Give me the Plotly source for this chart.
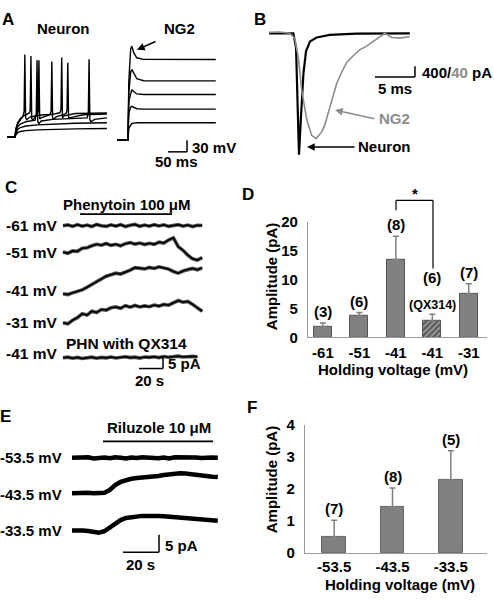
import plotly.graph_objects as go

W, H = 494, 601
FONT = "Liberation Sans, Arial, sans-serif"

# ---------------- data ----------------
# Panel D
d_labels = ["-61", "-51", "-41", "-41", "-31"]
d_values = [1.8, 3.8, 13.5, 2.8, 7.5]
d_errors = [0.7, 0.5, 4.0, 1.2, 1.8]
d_n = ["(3)", "(6)", "(8)", "(6)", "(7)"]
d_hatched = [False, False, False, True, False]

# Panel F
f_labels = ["-53.5", "-43.5", "-33.5"]
f_values = [0.5, 1.45, 2.28]
f_errors = [0.53, 0.58, 0.91]
f_n = ["(7)", "(8)", "(5)"]

# Panel A - neuron current-clamp traces (ms, mV relative to rest)
a_n1_t = [0, 21, 22, 24, 28, 35, 50, 80, 120, 180, 263]
a_n1_v = [0, 0, 4, 8, 12, 15, 17, 19, 20.5, 21.5, 22.5]
a_n2_t = [0, 21, 22, 24, 28, 35, 50, 80, 120, 180, 263]
a_n2_v = [0, 0, 6, 13, 20, 25, 29, 32, 34, 36, 37.5]
a_n3_t = [0, 21, 22, 24, 28, 35, 50, 74, 77, 79, 81, 84, 90, 120, 160, 200, 211, 214, 216, 218, 221, 230, 263]
a_n3_v = [0, 0, 8, 17, 27, 34, 40, 44, 60, 198, 40, 35, 42, 46, 48, 49, 50, 62, 201, 45, 40, 46, 50]
a_n4_t = [0, 21, 22, 24, 28, 35, 42, 45, 47, 49, 52, 60, 80, 100, 113, 116, 118, 120, 123, 130, 150, 156, 158, 160, 162, 165, 200, 263]
a_n4_v = [0, 0, 10, 22, 34, 45, 55, 65, 213, 50, 45, 52, 56, 58, 59, 66, 195, 50, 47, 53, 58, 62, 70, 192, 52, 50, 58, 60]
a_n5_t = [0, 21, 22, 24, 28, 35, 45, 58, 61, 63, 65, 68, 76, 82, 84, 86, 90, 110, 139, 142, 144, 146, 150, 180, 263]
a_n5_v = [0, 0, 11, 24, 37, 48, 56, 62, 68, 209, 48, 44, 55, 66, 198, 47, 50, 57, 63, 70, 205, 50, 55, 61, 62.5]

# Panel A - NG2 traces (ms, mV relative to rest)
a_g_t = [0, 29, 31, 36, 39, 44, 52, 70, 260]
a_g1_v = [0, 0, 150, 235, 242, 225, 212, 208, 207.5]
a_g2_v = [0, 0, 120, 175, 182, 172, 158, 153, 152.5]
a_g3_v = [0, 0, 100, 125, 130, 125, 119, 117.5, 117.5]
a_g4_v = [0, 0, 70, 85, 87, 84, 81, 80, 80]
a_g5_v = [0, 0, 30, 40, 43, 44, 45, 45, 45]

# Panel B - evoked currents (ms, pA)
b_neu_t = [0, 3.04, 3.38, 3.54, 3.75, 3.96, 4.3, 4.63, 5.13, 5.96, 7.6, 10.96, 17.6]
b_neu_i = [0, 0, -545, -2727, -4545, -3333, -1515, -667, -303, -158, -61, -12, 0]
b_ng2_t = [0, 1.33, 2.58, 3.21, 3.67, 4.08, 4.71, 5.33, 5.88, 6.58, 7.0, 7.42, 7.9, 8.46, 9.1,
           9.71, 10.5, 11.38, 12.2, 13.04, 13.88, 14.5, 15.33, 16.4, 17.6]
b_ng2_i = [3.6, 5, 0, -18, -91, -212, -321, -382, -394, -370, -340, -297, -245, -188, -145,
           -109, -85, -61, -48, -30, -12, 0, -16, -18, -12]

# Panel C - phenytoin traces (s, pA change)
c_t = [0, 4, 8, 12, 16, 20, 24, 28, 32, 36, 40, 44, 48, 52, 56, 60, 64, 68, 72, 76, 80, 84,
       88, 92, 96, 100, 104, 108, 112, 116]
c_m61 = [0, 0.4, -0.3, 0.5, -0.2, 0.3, -0.4, 0.6, 0, -0.3, 0.4, -0.2, 0.5, -0.4, 0.2, 0.6,
         -0.3, 0.3, -0.2, 0.5, -0.1, 0.4, -0.3, 0.2, 0.5, -0.2, 0.3, -0.4, 0.2, 0.1]
c_m51 = [0, -0.6, 0.5, 0.3, 1.8, 2.0, 2.9, 3.6, 3.2, 4.0, 3.1, 3.6, 2.9, 3.9, 4.4, 3.7, 4.2,
         3.5, 4.1, 3.6, 4.6, 4.2, 5.6, 6.6, 2.5, 0.8, -1.5, -3.2, -3.8, -2.6]
c_m41 = [0, -0.4, 0.4, 1.0, 1.8, 3.0, 4.2, 5.8, 7.0, 8.2, 8.9, 9.6, 9.2, 10.0, 11.0, 12.2,
         12.0, 11.6, 12.3, 11.8, 12.6, 12.0, 11.5, 10.4, 9.6, 10.6, 11.4, 11.8, 11.2, 12.1]
c_m31 = [0, -0.5, 1.2, 2.4, 4.2, 3.6, 5.4, 4.8, 6.2, 5.9, 7.0, 7.4, 6.8, 8.0, 7.3, 8.1, 7.4,
         7.9, 7.5, 8.3, 7.8, 8.6, 8.2, 9.3, 10.4, 9.6, 10.0, 8.6, 6.8, 5.4]
c_qx_t = [0, 4, 8, 12, 16, 20, 24, 28, 32, 36, 40, 44, 48, 52, 56, 60, 64, 68, 72, 76, 80,
          84, 88, 92, 96, 100, 104, 108, 112]
c_qx = [0, 0.3, -0.2, 0.2, -0.3, 0.1, 0.3, -0.2, 0.2, 0, 0.4, -0.1, 0.2, 0.5, 0.1, 0.3, -0.1,
        0.4, 0.2, 0.5, 0.1, 0.6, 0.3, 0.5, 0.8, 0.4, 0.6, 0.7, 0.5]

# Panel E - riluzole traces (s, pA change)
e_t = [0, 3, 6, 9, 12, 15, 18, 21, 24, 27, 30, 33, 36, 39, 42, 45, 48, 51, 54, 57, 60, 63,
       66, 69, 72, 75, 78, 81]
e_m535 = [0, 0.1, -0.1, 0.15, -0.2, 0.05, 0.1, -0.1, 0.15, 0, -0.2, 0.1, -0.05, 0.15, 0, 0.1,
          -0.15, 0.05, -0.2, 0.15, 0.2, 0.05, 0.2, 0.1, -0.05, 0.15, 0.1, 0.05]
e_m435 = [0, 0.1, -0.1, 0.1, 0, 0.1, 0.1, 0.9, 2.3, 3.2, 3.7, 4.1, 4.3, 4.4, 4.6, 4.7, 4.9,
          5.2, 5.4, 5.6, 5.7, 5.6, 5.4, 5.0, 4.9, 4.8, 4.7, 4.6]
e_m335 = [0, 0.1, 0, -0.1, -0.4, -0.6, -0.2, 1.0, 2.2, 3.0, 3.6, 3.9, 4.1, 4.2, 4.2, 4.3,
          4.2, 4.1, 4.0, 3.9, 3.8, 3.7, 3.5, 3.3, 3.1, 3.0, 2.9, 2.8]

# ---------------- geometry helpers ----------------
def px(x):
    return x / W

def py(y):
    return 1 - y / H

def xdom(x0, x1):
    return [x0 / W, x1 / W]

def ydom(y0, y1):
    return [1 - y1 / H, 1 - y0 / H]

def xrng(x0, x1, origin, scale):
    return [(x0 - origin) * scale, (x1 - origin) * scale]

def yrng(y0, y1, origin, scale):
    return [(origin - y1) * scale, (origin - y0) * scale]

def bold(size=15, color="black"):
    return dict(family=FONT, size=size, color=color, weight="bold")

HIDDEN = dict(visible=False, fixedrange=True, showgrid=False, zeroline=False)
AXIS_GRAY = "#9a9a9a"

fig = go.Figure()

# ---------------- Panel D bars ----------------
d_colors = ["#5a5a5a" if h else "#808080" for h in d_hatched]
fig.add_trace(go.Bar(
    x=list(range(len(d_values))), y=d_values, width=0.49,
    marker=dict(color=d_colors, line=dict(color="#555555", width=1),
                pattern=dict(shape=["/" if h else "" for h in d_hatched], size=4, solidity=0.35)),
    error_y=dict(type="data", array=d_errors, arrayminus=[0] * len(d_errors), symmetric=False,
                 color="#808080", thickness=1.5, width=3),
    xaxis="x", yaxis="y", hoverinfo="skip"))

# ---------------- Panel F bars ----------------
fig.add_trace(go.Bar(
    x=list(range(len(f_values))), y=f_values, width=0.41,
    marker=dict(color="#808080", line=dict(color="#666666", width=1)),
    error_y=dict(type="data", array=f_errors, arrayminus=[0] * len(f_errors), symmetric=False,
                 color="#808080", thickness=1.5, width=3),
    xaxis="x2", yaxis="y2", hoverinfo="skip"))

# ---------------- Panel A traces ----------------
for t, v in [(a_n1_t, a_n1_v), (a_n2_t, a_n2_v), (a_n3_t, a_n3_v), (a_n4_t, a_n4_v), (a_n5_t, a_n5_v)]:
    fig.add_trace(go.Scatter(x=t, y=v, mode="lines", line=dict(color="black", width=1.4),
                             xaxis="x3", yaxis="y3", hoverinfo="skip"))
for v in [a_g1_v, a_g2_v, a_g3_v, a_g4_v, a_g5_v]:
    fig.add_trace(go.Scatter(x=a_g_t, y=v, mode="lines", line=dict(color="black", width=1.4),
                             xaxis="x4", yaxis="y4", hoverinfo="skip"))

# ---------------- Panel B traces ----------------
fig.add_trace(go.Scatter(x=b_ng2_t, y=b_ng2_i, mode="lines", line=dict(color="#8c8c8c", width=1.6),
                         xaxis="x5", yaxis="y6", hoverinfo="skip"))
fig.add_trace(go.Scatter(x=b_neu_t, y=b_neu_i, mode="lines", line=dict(color="black", width=2.2),
                         xaxis="x5", yaxis="y5", hoverinfo="skip"))

# ---------------- Panel C traces (noisy band: grey halo + black core) ----------------
c_offsets = [75.9, 63.6, 44.1, 30.5, 14.1]
for (t, v), off in zip([(c_t, c_m61), (c_t, c_m51), (c_t, c_m41), (c_t, c_m31), (c_qx_t, c_qx)], c_offsets):
    yy = [a + off for a in v]
    fig.add_trace(go.Scatter(x=t, y=yy, mode="lines", line=dict(color="#555555", width=3.6),
                             xaxis="x7", yaxis="y7", hoverinfo="skip"))
    fig.add_trace(go.Scatter(x=t, y=yy, mode="lines", line=dict(color="black", width=1.6),
                             xaxis="x7", yaxis="y7", hoverinfo="skip"))

# ---------------- Panel E traces ----------------
e_offsets = [34.2, 24.1, 13.4]
for v, off in zip([e_m535, e_m435, e_m335], e_offsets):
    fig.add_trace(go.Scatter(x=e_t, y=[a + off for a in v], mode="lines",
                             line=dict(color="black", width=4.5),
                             xaxis="x8", yaxis="y8", hoverinfo="skip"))

# ---------------- axes ----------------
tick15 = bold(15)
layout_axes = dict(
    xaxis=dict(domain=xdom(308, 487), range=[-0.41, 4.5], tickvals=list(range(5)), ticktext=d_labels,
               showline=True, linecolor=AXIS_GRAY, linewidth=1.3, ticks="", tickfont=tick15,
               showgrid=False, zeroline=False, anchor="y", ticklabelstandoff=1, fixedrange=True),
    yaxis=dict(domain=ydom(219, 338), range=[0, 20], tickvals=[0, 5, 10, 15, 20],
               showline=True, linecolor=AXIS_GRAY, linewidth=1.3, ticks="",
               tickfont=tick15, showgrid=False, zeroline=False, anchor="x",
               ticklabelstandoff=6, fixedrange=True),
    xaxis2=dict(domain=xdom(305, 487), range=[-0.5, 2.62], tickvals=list(range(3)), ticktext=f_labels,
                showline=True, linecolor=AXIS_GRAY, linewidth=1.3, ticks="", tickfont=tick15,
                showgrid=False, zeroline=False, anchor="y2", ticklabelstandoff=0, fixedrange=True),
    yaxis2=dict(domain=ydom(428, 560), range=[0, 4], tickvals=[0, 1, 2, 3, 4],
                showline=True, linecolor=AXIS_GRAY, linewidth=1.3, ticks="",
                tickfont=tick15, showgrid=False, zeroline=False, anchor="x2",
                ticklabelstandoff=6, fixedrange=True),
    xaxis3=dict(HIDDEN, domain=xdom(5, 112), range=xrng(5, 112, 7, 50 / 19), anchor="y3"),
    yaxis3=dict(HIDDEN, domain=ydom(30, 160), range=yrng(30, 160, 132, 2.5), anchor="x3"),
    xaxis4=dict(HIDDEN, domain=xdom(112, 230), range=xrng(112, 230, 117, 50 / 19), anchor="y4"),
    yaxis4=dict(HIDDEN, domain=ydom(30, 160), range=yrng(30, 160, 135, 2.5), anchor="x4"),
    xaxis5=dict(HIDDEN, domain=xdom(265, 420), range=xrng(265, 420, 269, 0.125), anchor="y5"),
    yaxis5=dict(HIDDEN, domain=ydom(20, 155), range=yrng(20, 155, 25, 400 / 11), anchor="x5"),
    yaxis6=dict(HIDDEN, overlaying="y5", range=yrng(20, 155, 25, 40 / 11), anchor="x5"),
    xaxis7=dict(HIDDEN, domain=xdom(60, 210), range=xrng(60, 210, 63, 20 / 24), anchor="y7"),
    yaxis7=dict(HIDDEN, domain=ydom(195, 390), range=yrng(195, 390, 390, 5 / 11), anchor="x7"),
    xaxis8=dict(HIDDEN, domain=xdom(65, 230), range=xrng(65, 230, 72, 20 / 36), anchor="y8"),
    yaxis8=dict(HIDDEN, domain=ydom(425, 585), range=yrng(425, 585, 585, 5 / 18), anchor="x8"),
)

# ---------------- annotations ----------------
anns = []

def ann(text, x, y, xanchor="center", yanchor="middle", size=15, color="black", **kw):
    d = dict(text=text, x=px(x), y=py(y), xref="paper", yref="paper", xanchor=xanchor,
             yanchor=yanchor, showarrow=False, font=bold(size, color), borderpad=0)
    d.update(kw)
    anns.append(d)

def arrow(hx, hy, tx, ty, color="black"):
    anns.append(dict(text="", x=px(hx), y=py(hy), xref="paper", yref="paper", showarrow=True,
                     ax=tx - hx, ay=ty - hy, axref="pixel", ayref="pixel",
                     arrowhead=2, arrowsize=1.1, arrowwidth=1.4, arrowcolor=color))

# panel letters
ann("A", 1, 11, xanchor="left", size=17)
ann("B", 253, 11, xanchor="left", size=17)
ann("C", 4, 184, xanchor="left", size=17)
ann("D", 241, 191, xanchor="left", size=17)
ann("E", -1, 419, xanchor="left", size=17)
ann("F", 246, 410, xanchor="left", size=17)

# Panel A
ann("Neuron", 63, 20)
ann("NG2", 179, 20)
ann("30 mV", 191, 143, xanchor="left")
ann("50 ms", 176, 157)
arrow(137, 42, 157, 33)

# Panel B
ann("400/<span style='color:#8c8c8c'>40</span> pA", 421, 65, xanchor="left")
ann("5 ms", 395, 82)
ann("NG2", 378, 113, xanchor="left", color="#8c8c8c")
arrow(335, 104, 376, 113, color="#8c8c8c")
ann("Neuron", 357, 142, xanchor="left")
arrow(307, 142, 356, 142)

# Panel C
ann("Phenytoin 100 μM", 127, 201)
for lab, yy in [("-61 mV", 223), ("-51 mV", 251), ("-41 mV", 290), ("-31 mV", 323), ("-41 mV", 355)]:
    ann(lab, 58, yy, xanchor="right", size=15.5)
ann("PHN with QX314", 127, 344, size=15.5)
ann("5 pA", 167, 365, xanchor="left")
ann("20 s", 149, 382)

# Panel E
ann("Riluzole 10 μM", 159, 431)
for lab, yy in [("-53.5 mV", 462), ("-43.5 mV", 500), ("-33.5 mV", 537)]:
    ann(lab, 63, yy, xanchor="right")
ann("5 pA", 164, 552, xanchor="left")
ann("20 s", 140, 572)

# Panel D labels
for i, (v, e, n) in enumerate(zip(d_values, d_errors, d_n)):
    if d_hatched[i]:
        anns.append(dict(text="(QX314)", x=i, y=v + e, xref="x", yref="y", yanchor="bottom",
                         yshift=0, showarrow=False, font=bold(12.5)))
        anns.append(dict(text=n, x=i, y=v + e, xref="x", yref="y", yanchor="bottom",
                         yshift=26, showarrow=False, font=bold(15)))
    else:
        anns.append(dict(text=n, x=i, y=v + e, xref="x", yref="y", yanchor="bottom",
                         yshift=1, showarrow=False, font=bold(15)))
ann("*", 415, 190, size=15)
ann("Amplitude (pA)", 271, 276, textangle=-90)
ann("Holding voltage (mV)", 393, 371)

# Panel F labels
for i, (v, e, n) in enumerate(zip(f_values, f_errors, f_n)):
    anns.append(dict(text=n, x=i, y=v + e, xref="x2", yref="y2", yanchor="bottom",
                     yshift=1, showarrow=False, font=bold(15)))
ann("Amplitude (pA)", 271, 485, textangle=-90)
ann("Holding voltage (mV)", 400, 592)

# ---------------- shapes (scale bars, drug bars, bracket) ----------------
shapes = []

def seg(x0, y0, x1, y1, width=1.5, color="black"):
    shapes.append(dict(type="line", xref="paper", yref="paper", x0=px(x0), y0=py(y0),
                       x1=px(x1), y1=py(y1), line=dict(color=color, width=width)))

# A scale bar
seg(168, 147, 187, 147)
seg(187, 147, 187, 135)
# B scale bar
seg(375, 70, 415, 70)
seg(415, 70, 415, 59)
# C drug bar + scale bar
seg(80, 211, 172, 211, width=1.8)
seg(139, 370, 163, 370)
seg(163, 370, 163, 359)
# E drug bar + scale bar
seg(103, 445, 213, 445, width=1.8)
seg(123, 559, 159, 559)
seg(159, 559, 159, 541)
# D significance bracket
seg(396, 207, 396, 197, width=1.2)
seg(396, 197, 433, 197, width=1.2)
seg(433, 197, 433, 267, width=1.2)

fig.update_layout(
    width=W, height=H, margin=dict(l=0, r=0, t=0, b=0),
    paper_bgcolor="white", plot_bgcolor="rgba(0,0,0,0)",
    showlegend=False, bargap=0, font=dict(family=FONT),
    annotations=anns, shapes=shapes, **layout_axes)

fig.write_html("out.html", config={"displayModeBar": False},
               post_script="document.body.style.margin='0';")
